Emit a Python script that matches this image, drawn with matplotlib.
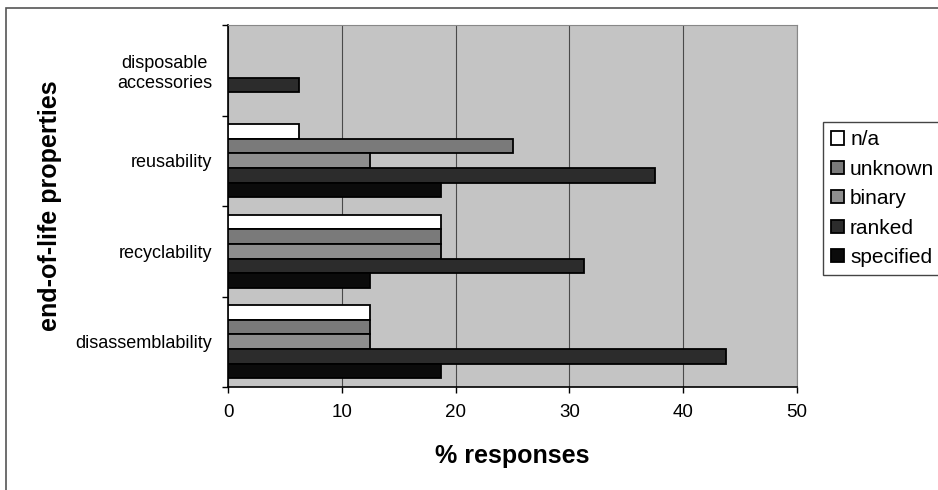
import numpy as np
import matplotlib.pyplot as plt
from matplotlib.patches import Rectangle

plt.rcParams['font.family'] = ['Liberation Sans', 'DejaVu Sans']

# ---- Data (% responses) ----
categories = ['disassemblability', 'recyclability', 'reusability', 'disposable\naccessories']
series = ['n/a', 'unknown', 'binary', 'ranked', 'specified']
na_vals = [12.5, 18.75, 6.25, 0]
unknown_vals = [12.5, 18.75, 25, 0]
binary_vals = [12.5, 18.75, 12.5, 0]
ranked_vals = [43.75, 31.25, 37.5, 6.25]
specified_vals = [18.75, 12.5, 18.75, 0]
colors = ['#ffffff', '#7a7a7a', '#8e8e8e', '#2c2c2c', '#0b0b0b']


def main():
    W, H = 938, 490
    fig = plt.figure(figsize=(W / 100, H / 100), dpi=100)
    ax = fig.add_axes([228 / W, (H - 387) / H, (797 - 228) / W, (387 - 25) / H])
    ax.set_facecolor('#c4c4c4')

    y = np.arange(len(categories))
    h = 0.161
    all_vals = [na_vals, unknown_vals, binary_vals, ranked_vals, specified_vals]
    for i, (name, vals, col) in enumerate(zip(series, all_vals, colors)):
        lw = [1.3 if v > 0 else 0 for v in vals]
        ax.barh(y + (2 - i) * h, vals, height=h, color=col, edgecolor='black',
                linewidth=lw, label=name, zorder=3)

    ax.set_xlim(0, 50)
    ax.set_ylim(-0.5, 3.5)
    ax.set_xticks(np.arange(0, 51, 10))
    ax.tick_params(axis='x', length=4, width=1, pad=8, labelsize=13.5)

    # category boundaries get the tick marks, centres get the labels
    ax.set_yticks(np.arange(-0.5, 3.6, 1))
    ax.set_yticklabels([])
    ax.set_yticks(y, minor=True)
    ax.set_yticklabels(categories, minor=True, fontsize=13, multialignment='center')
    ax.tick_params(axis='y', which='major', length=4.5, width=1)
    ax.tick_params(axis='y', which='minor', length=0, pad=11.5)

    ax.xaxis.grid(True, color='#4a4a4a', linewidth=0.8)
    ax.set_axisbelow(True)
    for s in ['left', 'bottom']:
        ax.spines[s].set_linewidth(1.2)
    for s in ['top', 'right']:
        ax.spines[s].set_color('#888888')

    fig.text(512 / W, 1 - 456 / H, '% responses', ha='center', va='center',
             fontsize=18, fontweight='bold')
    fig.text(50 / W, 1 - 206 / H, 'end-of-life properties', ha='center', va='center',
             rotation=90, fontsize=18, fontweight='bold')

    fig.legend(loc='upper left', bbox_to_anchor=(823 / W, 1 - 122 / H), frameon=True,
               fancybox=False, edgecolor='#444444', framealpha=1, fontsize=15,
               handlelength=0.6, handleheight=0.6, handletextpad=0.3,
               labelspacing=0.5, borderpad=0.4, borderaxespad=0)

    # outer chart frame
    fig.add_artist(Rectangle((6 / W, -0.1), 2, 1.1 - 8 / H, transform=fig.transFigure,
                             fill=False, edgecolor='#555555', linewidth=1.2))

    fig.savefig('out.png', dpi=100, facecolor='white')


if __name__ == "__main__":
    main()
